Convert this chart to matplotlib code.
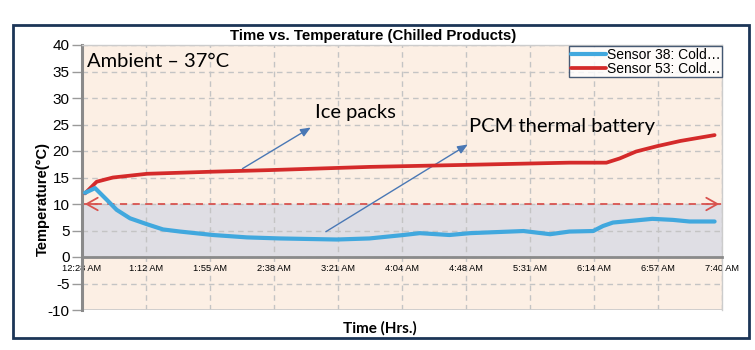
import matplotlib
matplotlib.use('Agg')
import matplotlib.pyplot as plt
from matplotlib.patches import Rectangle

plt.rcParams['font.family'] = ['Liberation Sans', 'DejaVu Sans']

# minutes after 12:28 AM
blue_t = [2.0, 8.8, 16.7, 23.4, 32.4, 43.7, 54.7, 66.2, 88.4, 111.4, 133.7, 172, 194, 217, 228, 248,
          262, 298, 316, 329, 345, 351.7, 358.4, 372, 385, 398.9, 410, 427]
blue_v = [12.1, 13.0, 10.8, 8.9, 7.3, 6.2, 5.2, 4.8, 4.15, 3.7, 3.5, 3.3, 3.5, 4.15, 4.5, 4.15,
          4.5, 4.9, 4.3, 4.8, 4.9, 5.85, 6.5, 6.85, 7.2, 7.0, 6.7, 6.7]

red_t = [2.0, 9.9, 20.9, 43.9, 88.4, 127, 194, 262, 329, 354, 363, 374, 388, 404, 427]
red_v = [12.0, 14.2, 15.0, 15.7, 16.1, 16.4, 17.0, 17.4, 17.8, 17.8, 18.6, 19.9, 20.9, 21.9, 23.0]

tick_labels = ['12:28 AM', '1:12 AM', '1:55 AM', '2:38 AM', '3:21 AM', '4:04 AM',
               '4:48 AM', '5:31 AM', '6:14 AM', '6:57 AM', '7:40 AM']
total_min = 432
threshold = 10

fig = plt.figure(figsize=(7.55, 3.5), dpi=100)
fig.patch.set_facecolor('white')
fig.patches.append(Rectangle((13/755, 1-338/350), 736/755, 313/350, transform=fig.transFigure,
                             fill=False, edgecolor='#1c3557', linewidth=2, zorder=0))

ax = fig.add_axes([82/755, 1-310/350, 640/755, 265/350])
ax.set_facecolor('#fcefe4')
ax.spines['bottom'].set_position(('data', 0))
ax.set_xlim(0, total_min)
ax.set_ylim(-10, 40)

ax.axhspan(0, threshold, color='#dfdee4', zorder=0)

step = total_min / (len(tick_labels) - 1)
xticks = [i * step for i in range(len(tick_labels))]
ax.set_xticks(xticks)
ax.set_xticklabels(tick_labels)
ax.set_yticks(range(-10, 41, 5))
ax.set_yticklabels([str(v) for v in range(-10, 41, 5)])
ax.grid(True, color='#c4c4c4', linestyle=(0, (4, 3)), linewidth=1)
ax.set_axisbelow(True)

ax.spines['bottom'].set_color('#8a8a8a')
ax.spines['bottom'].set_linewidth(2)
ax.spines['left'].set_color('#8a8a8a')
ax.spines['left'].set_linewidth(2.2)
for s in ['top', 'right']:
    ax.spines[s].set_color('#cccccc')
    ax.spines[s].set_linewidth(1)
ax.axhline(-10, color='#cccccc', linewidth=2)
ax.tick_params(axis='x', length=0, pad=5, labelsize=6.7)
ax.tick_params(axis='y', length=7, color='#9a9a9a', width=1, pad=2, labelsize=11)

# threshold line with open arrowheads at both ends
ax.axhline(threshold, color='#d9534f', linestyle=(0, (4, 3)), linewidth=1.3, zorder=2)
ax.annotate('', xy=(0, threshold), xytext=(12, threshold),
            arrowprops=dict(arrowstyle='->,head_length=0.8,head_width=0.45', color='#d9534f', lw=1.3))
ax.annotate('', xy=(total_min, threshold), xytext=(total_min - 12, threshold),
            arrowprops=dict(arrowstyle='->,head_length=0.8,head_width=0.45', color='#d9534f', lw=1.3))

ax.plot(red_t, red_v, color='#d42a2a', linewidth=2.7, solid_capstyle='round',
        solid_joinstyle='round', label='Sensor 53: Cold…', zorder=4)
ax.plot(blue_t, blue_v, color='#41a8de', linewidth=3, solid_capstyle='round',
        solid_joinstyle='round', label='Sensor 38: Cold…', zorder=5)

handles, labels = ax.get_legend_handles_labels()
leg = ax.legend(handles[::-1], labels[::-1], loc='upper right', bbox_to_anchor=(1.0, 0.995),
                prop={'size': 10}, frameon=True, fancybox=False,
                borderpad=0.1, labelspacing=0, handlelength=2.5, handletextpad=0.1,
                borderaxespad=0)
leg.get_frame().set_edgecolor('#1c3557')
leg.get_frame().set_linewidth(1)
leg.get_frame().set_facecolor('white')

ax.text(0.008, 0.936, 'Ambient \u2013 37°C', transform=ax.transAxes, fontsize=14.5,
        family='Lato', va='center', ha='left')
ax.text(0.364, 0.747, 'Ice packs', transform=ax.transAxes, fontsize=14.5,
        family='Lato', va='center', ha='left')
ax.text(0.605, 0.691, 'PCM thermal battery', transform=ax.transAxes, fontsize=14.5,
        family='Lato', va='center', ha='left')

ax.annotate('', xy=(156, 24.7), xytext=(106.7, 16.4),
            arrowprops=dict(arrowstyle='-|>,head_length=0.6,head_width=0.25', color='#4a78b5', lw=1))
ax.annotate('', xy=(262, 21.5), xytext=(163, 4.5),
            arrowprops=dict(arrowstyle='-|>,head_length=0.6,head_width=0.25', color='#4a78b5', lw=1))

ax.set_ylabel('Temperature(°C)', fontsize=10.5, fontweight='bold')
ax.yaxis.set_label_coords(-0.05, 0.42)
ax.set_xlabel('Time (Hrs.)', fontsize=11, fontweight='bold', family='Lato')
ax.xaxis.set_label_coords(0.466, -0.04)

fig.text(373/755, 1-36/350, 'Time vs. Temperature (Chilled Products)', ha='center', va='center',
         fontsize=10.8, fontweight='bold')

fig.savefig('out.png', dpi=100)
